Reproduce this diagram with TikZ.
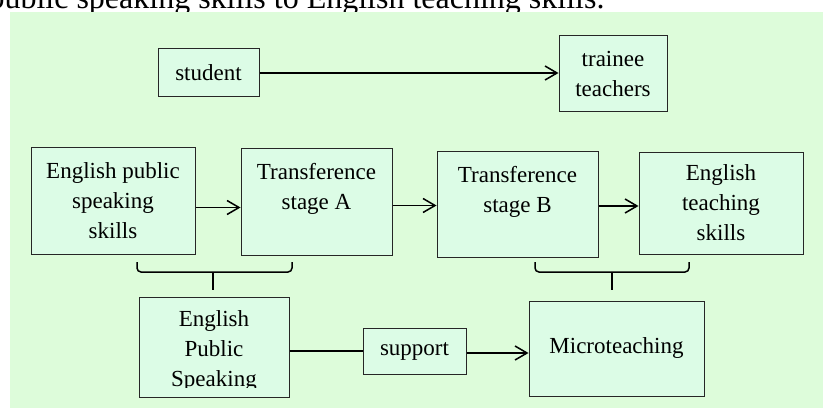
\documentclass[tikz,border=0pt]{standalone}
\usepackage{fontspec}
\setmainfont{Liberation Serif}
\usetikzlibrary{arrows.meta,calc}
\definecolor{verdeFondo}{HTML}{DDFCDA}
\definecolor{verdeCaja}{HTML}{DCFCE6}
\newcommand{\fuenteCaja}{\fontsize{23}{30}\selectfont}

\begin{document}
\begin{tikzpicture}[x=1pt,y=1pt,>={Straight Barb[length=12pt,width=14pt]},
  caja/.style={draw=black!85,fill=verdeCaja,line width=1pt,align=center,font=\fuenteCaja,inner sep=0pt},
  flecha/.style={->,line width=1.5pt},
  llave/.style={line width=1.5pt,rounded corners=4pt}]
  \clip (0,0) rectangle (823,408);
  \node[anchor=base west,font=\fontsize{32}{36}\selectfont] (titulo) at (-15,399.5)
    {public speaking skills to English teaching skills.};
  \fill[verdeFondo] (10,0) rectangle (823,396);
  % top row
  \node[caja,minimum width=101pt,minimum height=48pt] (student) at (208.5,335) {student};
  \node[caja,minimum width=108pt,minimum height=76pt] (trainee) at (613,334) {trainee\\teachers};
  \draw[flecha] (student.east) -- (student.east -| trainee.west);
  % middle row
  \node[caja,minimum width=164pt,minimum height=107pt] (eps) at (113,207.5)
    {English public\\speaking\\skills};
  \node[caja,minimum width=151pt,minimum height=107pt] (stageA) at (316.5,206.5)
    {Transference\\stage A\\\mbox{}};
  \node[caja,minimum width=161pt,minimum height=106pt] (stageB) at (517.5,204)
    {Transference\\stage B\\\mbox{}};
  \node[caja,minimum width=164pt,minimum height=102pt] (ets) at (721,205)
    {English\\teaching\\skills};
  \draw[flecha] ([yshift=-7pt]eps.east) -- ([yshift=-7pt]eps.east -| stageA.west);
  \draw[flecha] ([yshift=-4pt]stageA.east) -- ([yshift=-4pt]stageA.east -| stageB.west);
  \draw[flecha] ([yshift=-2pt]stageB.east) -- ([yshift=-2pt]stageB.east -| ets.west);
  % bottom row
  \node[caja,minimum width=150pt,minimum height=100pt] (epsBox) at (214,61) {};
  \begin{scope}
    \clip (epsBox.north west) rectangle ([yshift=10pt]epsBox.south east);
    \node[align=center,font=\fuenteCaja] (epsText) at ([yshift=-4pt]epsBox.center)
      {English\\Public\\Speaking};
  \end{scope}
  \node[caja,minimum width=103pt,minimum height=46pt] (support) at (414.5,57) {support};
  \node[caja,minimum width=175pt,minimum height=95pt] (micro) at (616.5,59.5) {Microteaching};
  \draw[line width=1.5pt] (support.west -| epsBox.east) -- (support.west);
  \draw[flecha] ([yshift=-2pt]support.east) -- ([yshift=-2pt]support.east -| micro.west);
  % braces
  \coordinate (llaveA) at (213,118);
  \coordinate (llaveB) at (612,118);
  \draw[llave] (137,146) -- (137,136) -- (292,136) -- (292,146);
  \draw[line width=1.5pt] (llaveA |- 0,136) -- (llaveA);
  \draw[llave] (535,146) -- (535,136) -- (689,136) -- (689,146);
  \draw[line width=1.5pt] (llaveB |- 0,136) -- (llaveB);
\end{tikzpicture}
\end{document}
